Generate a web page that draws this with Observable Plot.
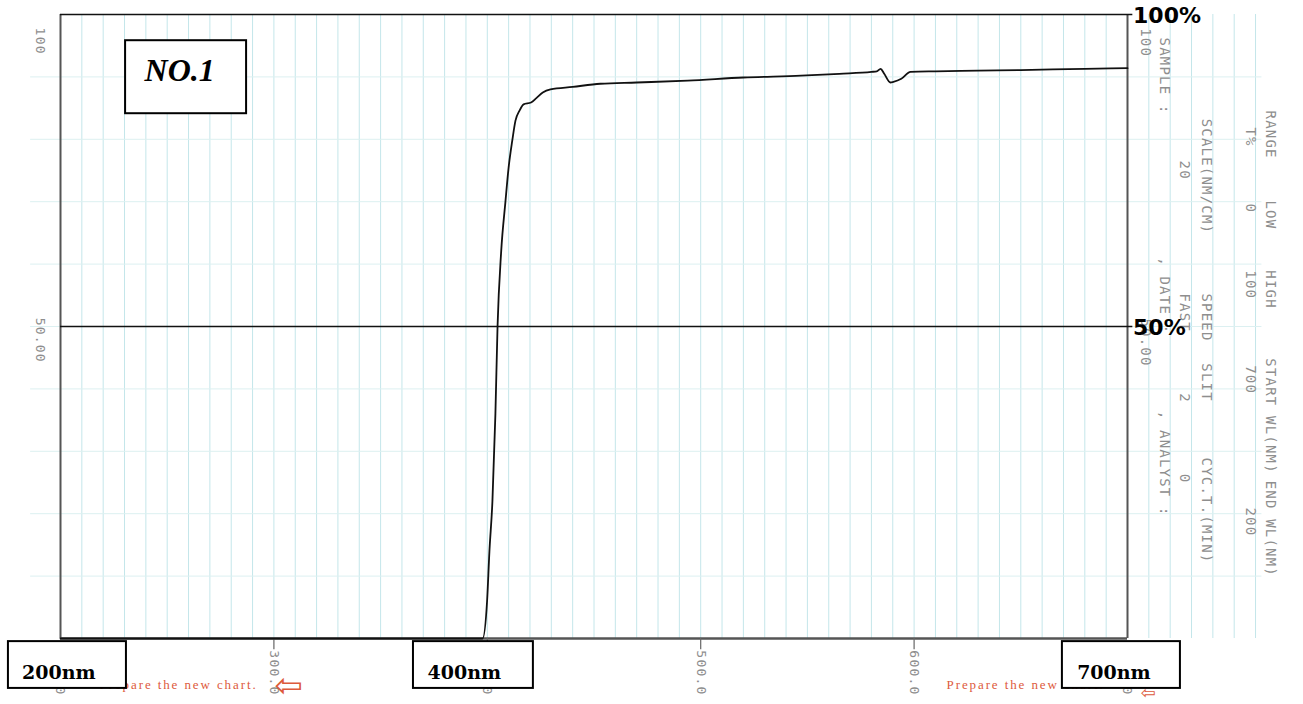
<!DOCTYPE html>
<html>
<head>
<meta charset="utf-8">
<script src="https://cdn.jsdelivr.net/npm/d3@7"></script>
<script src="https://cdn.jsdelivr.net/npm/@observablehq/plot@0.6"></script>
<style>
  html, body { margin: 0; padding: 0; background: #fff; }
  #chart { width: 1303px; height: 704px; overflow: hidden; }
  g[font-family="DejaVu Sans Mono"] text { letter-spacing: 1.2px; }
  g[font-family="Liberation Serif"][fill="#dd5a3c"] text { letter-spacing: 1.9px; }
</style>
</head>
<body>
<div id="chart"></div>
<script>
// ---- data ----
const wavelength = [200, 250, 300, 350, 397.8, 399.9, 401, 402.4, 403.8, 404.8, 406.5, 408.5, 410, 411.7, 413.2, 415.1, 417, 420.5, 423, 426, 429.6, 440, 453, 470, 494, 520, 547, 565, 580, 582.5, 584.3, 586, 588.9, 590.3, 594, 598.3, 610, 630, 650, 680, 700];
const transmittance = [0, 0, 0, 0, 0, 6, 14, 22, 36, 50, 62, 70, 75.5, 79.8, 83, 84.6, 85.6, 85.9, 86.6, 87.5, 88.0, 88.4, 88.9, 89.1, 89.4, 89.9, 90.2, 90.5, 90.8, 90.9, 91.3, 90.5, 89.1, 89.2, 89.7, 90.8, 90.9, 91.0, 91.1, 91.3, 91.4];

const xTicks = [200, 300, 400, 500, 600, 700];
const xTickLabels = ["200.0", "300.0", "400.0", "500.0", "600.0", "700.0"];
const yTickValues = [100, 50];
const yTickLabels = ["100", "50.00"];
const refLevels = [100, 50];
const refLabels = ["100%", "50%"];
const markerLabels = ["200nm", "400nm", "700nm"];
const titleLabel = "NO.1";
const notice = "Prepare the new chart.";

const gridNm = d3.range(210, 770, 10).filter(d => d !== 700);
const gridT = d3.range(10, 100, 10);

const curve = wavelength.map((w, i) => ({w, t: transmittance[i]}));

// recorder's printed parameter block (right side), rotated text
const panel = [
  {text: "100", x: 708.4, y: 97.8},
  {text: yTickLabels[1], x: 708.4, y: 51.3},
  {text: "SAMPLE :", x: 717.3, y: 96.3},
  {text: ", DATE :", x: 717.3, y: 61.1},
  {text: ", ANALYST :", x: 717.3, y: 36.5},
  {text: "20", x: 726.7, y: 76.6},
  {text: "FAST", x: 726.7, y: 55.3},
  {text: "2", x: 726.7, y: 39.3},
  {text: "0", x: 726.7, y: 26.4},
  {text: "SCALE(NM/CM)", x: 737.0, y: 83.3},
  {text: "SPEED", x: 737.0, y: 55.3},
  {text: "SLIT", x: 737.0, y: 44.1},
  {text: "CYC.T.(MIN)", x: 737.0, y: 29.0},
  {text: "T%", x: 757.6, y: 81.9},
  {text: "0", x: 757.6, y: 69.7},
  {text: "100", x: 757.6, y: 59.0},
  {text: "700", x: 757.6, y: 43.8},
  {text: "200", x: 757.6, y: 21.0},
  {text: "RANGE", x: 767.0, y: 84.6},
  {text: "LOW", x: 767.0, y: 70.2},
  {text: "HIGH", x: 767.0, y: 59.0},
  {text: "START WL(NM)", x: 767.0, y: 44.9},
  {text: "END WL(NM)", x: 767.0, y: 25.3}
];

const boxes = [
  {x1: 175.6, x2: 230.9, y1: -0.5, y2: -8.0, label: markerLabels[0], tx: 182.0},
  {x1: 365.4, x2: 421.6, y1: -0.5, y2: -8.0, label: markerLabels[1], tx: 372.0},
  {x1: 669.5, x2: 724.8, y1: -0.5, y2: -8.0, label: markerLabels[2], tx: 676.4}
];

const gray = "#8e8e8e";
const red = "#dd5a3c";

const chart = Plot.plot({
  width: 1303,
  height: 704,
  marginLeft: 60,
  marginRight: 176,
  marginTop: 14,
  marginBottom: 66,
  x: {domain: [200, 700], axis: null},
  y: {domain: [0, 100], axis: null},
  style: {background: "#fff"},
  marks: [
    // chart-paper grid
    Plot.ruleX(gridNm, {y1: 0, y2: 100, stroke: "#c4e6ea", strokeWidth: 1}),
    Plot.ruleY(gridT, {x1: 186, x2: 763, stroke: "#dcf0f1", strokeWidth: 1}),
    // frame
    Plot.ruleX([200, 700], {y1: 0, y2: 100, stroke: "#555", strokeWidth: 2}),
    Plot.ruleY([0], {x1: 200, x2: 700, stroke: "#555", strokeWidth: 2.5}),
    Plot.ruleX(xTicks.filter(d => d !== 200 && d !== 700), {y1: 0, y2: -1.8, stroke: "#666", strokeWidth: 1.2}),
    // reference lines 100% / 50%
    Plot.ruleY(refLevels, {x1: 200, x2: 702.5, stroke: "#111", strokeWidth: 1.6}),
    // spectrum
    Plot.line(curve, {x: "w", y: "t", stroke: "#111", strokeWidth: 1.8, curve: "monotone-x"}),
    // printed axis labels
    Plot.text(yTickValues.map((v, i) => ({v, label: yTickLabels[i]})), {
      x: 190.6, y: d => d.v === 100 ? 97.9 : 51.4, text: "label", rotate: 90,
      textAnchor: "start", lineAnchor: "middle", fontFamily: "DejaVu Sans Mono", fontSize: 13, fill: gray
    }),
    Plot.text(xTicks.map((v, i) => ({v, label: xTickLabels[i]})), {
      x: "v", y: -1.9, text: "label", rotate: 90,
      textAnchor: "start", lineAnchor: "middle", fontFamily: "DejaVu Sans Mono", fontSize: 13, fill: gray
    }),
    Plot.text(panel, {
      x: "x", y: "y", text: "text", rotate: 90,
      textAnchor: "start", lineAnchor: "middle", fontFamily: "DejaVu Sans Mono", fontSize: 14, fill: gray
    }),
    // red printed notices
    Plot.text([notice, notice], {
      x: (d, i) => i === 0 ? 218.3 : 615.2, y: -7.5, text: d => d,
      textAnchor: "start", fontFamily: "Liberation Serif", fontSize: 13, fill: red
    }),
    Plot.text(["\u21E6"], {
      x: 306.8, y: -7.6, text: d => d,
      fontFamily: "DejaVu Sans", fontSize: 34, fill: red
    }),
    Plot.text(["\u21E6"], {
      x: 709.8, y: -8.8, text: d => d,
      fontFamily: "DejaVu Sans", fontSize: 18, fill: red
    }),
    // reference level labels
    Plot.text(refLevels.map((v, i) => ({v, label: refLabels[i]})), {
      x: 702.6, y: d => d.v === 100 ? 99.8 : 49.8, text: "label",
      textAnchor: "start", fontFamily: "DejaVu Sans", fontWeight: "bold", fontSize: 22, fill: "#000"
    }),
    // annotation boxes
    Plot.rect([titleLabel], {x1: 230.5, x2: 287.2, y1: 84.1, y2: 95.8, fill: "#fff", stroke: "#000", strokeWidth: 2}),
    Plot.text([titleLabel], {
      x: 239.4, y: 91.0, text: d => d, textAnchor: "start",
      fontFamily: "Liberation Serif", fontStyle: "italic", fontWeight: "bold", fontSize: 32, fill: "#000"
    }),
    Plot.rect(boxes, {x1: "x1", x2: "x2", y1: "y1", y2: "y2", fill: "#fff", stroke: "#000", strokeWidth: 2}),
    Plot.text(boxes, {
      x: "tx", y: -5.5, text: "label", textAnchor: "start",
      fontFamily: "DejaVu Serif", fontWeight: "bold", fontSize: 19, fill: "#000"
    })
  ]
});
document.getElementById("chart").appendChild(chart);
</script>
</body>
</html>
